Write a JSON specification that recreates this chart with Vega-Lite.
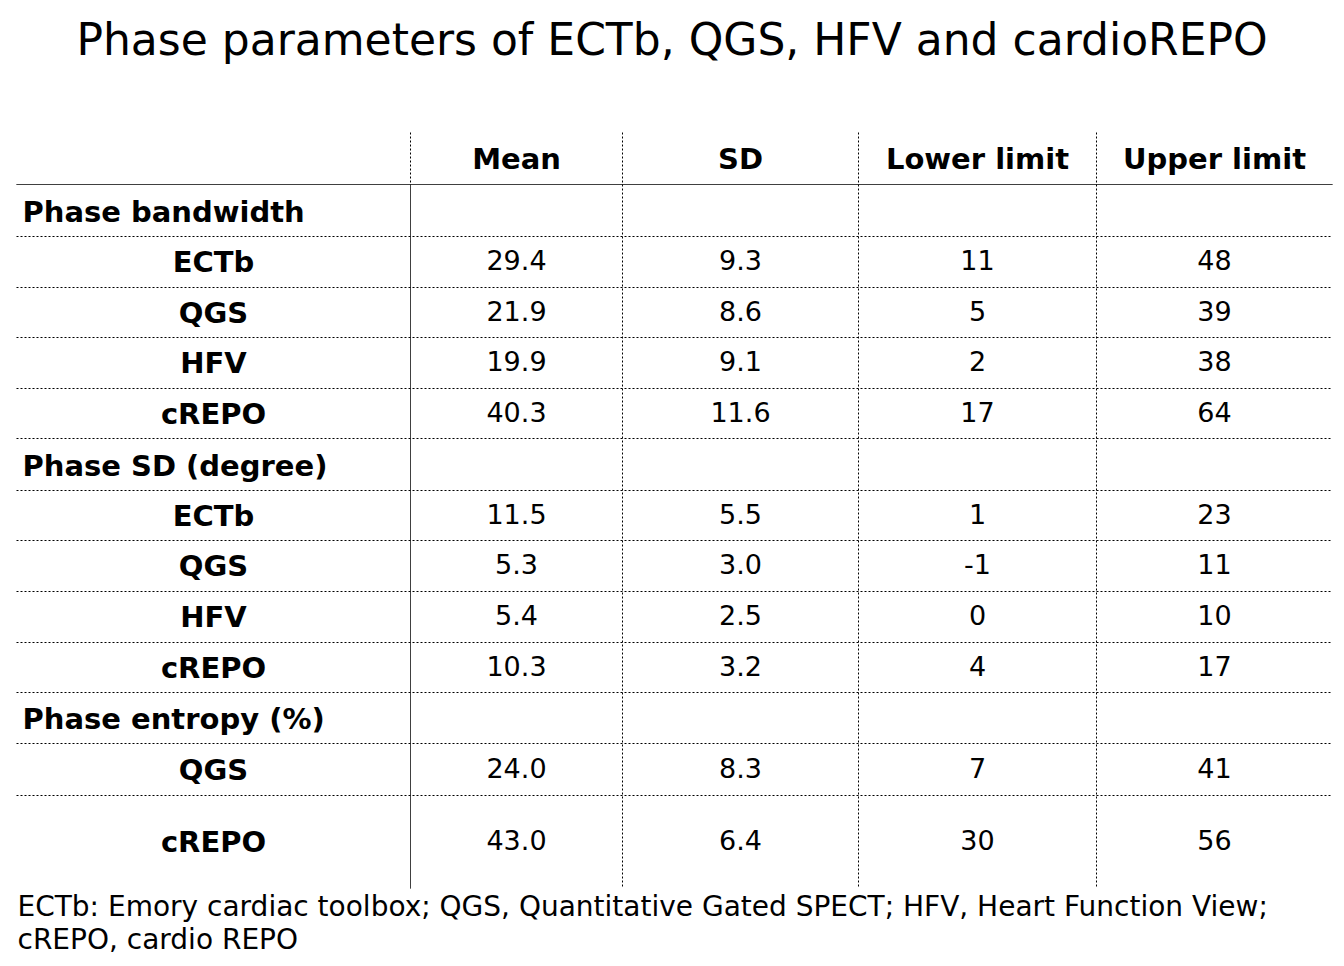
{
  "$schema": "https://vega.github.io/schema/vega-lite/v6.json",
  "width": 1344,
  "height": 966,
  "padding": 0,
  "autosize": {"type": "none"},
  "background": "white",
  "config": {"view": {"stroke": null}},
  "title": {
    "text": "Phase parameters of ECTb, QGS, HFV and cardioREPO",
    "font": "DejaVu Sans",
    "fontSize": 44,
    "fontWeight": "normal",
    "color": "#000000",
    "anchor": "middle",
    "frame": "group",
    "baseline": "alphabetic",
    "offset": -99
  },
  "datasets": {
    "cells": [
      {"row": 0, "col": 1, "kind": "head", "text": "Mean"},
      {"row": 0, "col": 2, "kind": "head", "text": "SD"},
      {"row": 0, "col": 3, "kind": "head", "text": "Lower limit"},
      {"row": 0, "col": 4, "kind": "head", "text": "Upper limit"},
      {"row": 1, "col": 0, "kind": "group", "text": "Phase bandwidth"},
      {"row": 2, "col": 0, "kind": "label", "text": "ECTb"},
      {"row": 2, "col": 1, "kind": "value", "text": "29.4"},
      {"row": 2, "col": 2, "kind": "value", "text": "9.3"},
      {"row": 2, "col": 3, "kind": "value", "text": "11"},
      {"row": 2, "col": 4, "kind": "value", "text": "48"},
      {"row": 3, "col": 0, "kind": "label", "text": "QGS"},
      {"row": 3, "col": 1, "kind": "value", "text": "21.9"},
      {"row": 3, "col": 2, "kind": "value", "text": "8.6"},
      {"row": 3, "col": 3, "kind": "value", "text": "5"},
      {"row": 3, "col": 4, "kind": "value", "text": "39"},
      {"row": 4, "col": 0, "kind": "label", "text": "HFV"},
      {"row": 4, "col": 1, "kind": "value", "text": "19.9"},
      {"row": 4, "col": 2, "kind": "value", "text": "9.1"},
      {"row": 4, "col": 3, "kind": "value", "text": "2"},
      {"row": 4, "col": 4, "kind": "value", "text": "38"},
      {"row": 5, "col": 0, "kind": "label", "text": "cREPO"},
      {"row": 5, "col": 1, "kind": "value", "text": "40.3"},
      {"row": 5, "col": 2, "kind": "value", "text": "11.6"},
      {"row": 5, "col": 3, "kind": "value", "text": "17"},
      {"row": 5, "col": 4, "kind": "value", "text": "64"},
      {"row": 6, "col": 0, "kind": "group", "text": "Phase SD (degree)"},
      {"row": 7, "col": 0, "kind": "label", "text": "ECTb"},
      {"row": 7, "col": 1, "kind": "value", "text": "11.5"},
      {"row": 7, "col": 2, "kind": "value", "text": "5.5"},
      {"row": 7, "col": 3, "kind": "value", "text": "1"},
      {"row": 7, "col": 4, "kind": "value", "text": "23"},
      {"row": 8, "col": 0, "kind": "label", "text": "QGS"},
      {"row": 8, "col": 1, "kind": "value", "text": "5.3"},
      {"row": 8, "col": 2, "kind": "value", "text": "3.0"},
      {"row": 8, "col": 3, "kind": "value", "text": "-1"},
      {"row": 8, "col": 4, "kind": "value", "text": "11"},
      {"row": 9, "col": 0, "kind": "label", "text": "HFV"},
      {"row": 9, "col": 1, "kind": "value", "text": "5.4"},
      {"row": 9, "col": 2, "kind": "value", "text": "2.5"},
      {"row": 9, "col": 3, "kind": "value", "text": "0"},
      {"row": 9, "col": 4, "kind": "value", "text": "10"},
      {"row": 10, "col": 0, "kind": "label", "text": "cREPO"},
      {"row": 10, "col": 1, "kind": "value", "text": "10.3"},
      {"row": 10, "col": 2, "kind": "value", "text": "3.2"},
      {"row": 10, "col": 3, "kind": "value", "text": "4"},
      {"row": 10, "col": 4, "kind": "value", "text": "17"},
      {"row": 11, "col": 0, "kind": "group", "text": "Phase entropy (%)"},
      {"row": 12, "col": 0, "kind": "label", "text": "QGS"},
      {"row": 12, "col": 1, "kind": "value", "text": "24.0"},
      {"row": 12, "col": 2, "kind": "value", "text": "8.3"},
      {"row": 12, "col": 3, "kind": "value", "text": "7"},
      {"row": 12, "col": 4, "kind": "value", "text": "41"},
      {"row": 13, "col": 0, "kind": "label", "text": "cREPO"},
      {"row": 13, "col": 1, "kind": "value", "text": "43.0"},
      {"row": 13, "col": 2, "kind": "value", "text": "6.4"},
      {"row": 13, "col": 3, "kind": "value", "text": "30"},
      {"row": 13, "col": 4, "kind": "value", "text": "56"}
    ],
    "hlines": [
      {"edge": 0.5, "style": "solid"},
      {"edge": 1.5, "style": "dotted"},
      {"edge": 2.5, "style": "dotted"},
      {"edge": 3.5, "style": "dotted"},
      {"edge": 4.5, "style": "dotted"},
      {"edge": 5.5, "style": "dotted"},
      {"edge": 6.5, "style": "dotted"},
      {"edge": 7.5, "style": "dotted"},
      {"edge": 8.5, "style": "dotted"},
      {"edge": 9.5, "style": "dotted"},
      {"edge": 10.5, "style": "dotted"},
      {"edge": 11.5, "style": "dotted"},
      {"edge": 12.5, "style": "dotted"}
    ],
    "vlines": [
      {"edge": 0.5, "from": -0.5, "to": 0.5, "style": "dotted"},
      {"edge": 0.5, "from": 0.5, "to": 13.5, "style": "solid"},
      {"edge": 1.5, "from": -0.5, "to": 13.5, "style": "dotted"},
      {"edge": 2.5, "from": -0.5, "to": 13.5, "style": "dotted"},
      {"edge": 3.5, "from": -0.5, "to": 13.5, "style": "dotted"}
    ],
    "notes": [
      {"row": 15, "text": "ECTb: Emory cardiac toolbox; QGS, Quantitative Gated SPECT; HFV, Heart Function View;\ncREPO, cardio REPO"}
    ]
  },
  "layer": [
    {
      "data": {"name": "hlines"},
      "mark": {"type": "rule", "color": "#000000", "strokeWidth": 1},
      "encoding": {
        "x": {"datum": -0.5, "type": "quantitative", "axis": null,
              "scale": {"type": "linear", "domain": [-0.5, 0.5, 1.5, 2.5, 3.5, 4.5], "range": [16.5, 410.5, 622.5, 858.5, 1096.5, 1332.5], "zero": false, "nice": false}},
        "x2": {"datum": 4.5},
        "y": {"field": "edge", "type": "quantitative", "axis": null,
              "scale": {"type": "linear", "domain": [-0.5, 0.5, 1.5, 2.5, 3.5, 4.5, 5.5, 6.5, 7.5, 8.5, 9.5, 10.5, 11.5, 12.5, 13.5, 15], "range": [132.5, 184.5, 236.5, 287.5, 337.5, 388.5, 438.5, 490.5, 540.5, 591.5, 642.5, 692.5, 743.5, 795.5, 888.5, 915.5], "zero": false, "nice": false}},
        "strokeDash": {"field": "style", "type": "nominal", "legend": null,
                       "scale": {"domain": ["solid", "dotted"], "range": [[1, 0], [2, 2]]}}
      }
    },
    {
      "data": {"name": "vlines"},
      "mark": {"type": "rule", "color": "#000000", "strokeWidth": 1},
      "encoding": {
        "x": {"field": "edge", "type": "quantitative", "axis": null,
              "scale": {"type": "linear", "domain": [-0.5, 0.5, 1.5, 2.5, 3.5, 4.5], "range": [16.5, 410.5, 622.5, 858.5, 1096.5, 1332.5], "zero": false, "nice": false}},
        "y": {"field": "from", "type": "quantitative", "axis": null,
              "scale": {"type": "linear", "domain": [-0.5, 0.5, 1.5, 2.5, 3.5, 4.5, 5.5, 6.5, 7.5, 8.5, 9.5, 10.5, 11.5, 12.5, 13.5, 15], "range": [132.5, 184.5, 236.5, 287.5, 337.5, 388.5, 438.5, 490.5, 540.5, 591.5, 642.5, 692.5, 743.5, 795.5, 888.5, 915.5], "zero": false, "nice": false}},
        "y2": {"field": "to"},
        "strokeDash": {"field": "style", "type": "nominal", "legend": null,
                       "scale": {"domain": ["solid", "dotted"], "range": [[1, 0], [2, 2]]}}
      }
    },
    {
      "data": {"name": "cells"},
      "transform": [{"filter": "datum.kind === 'value'"}],
      "mark": {"type": "text", "font": "DejaVu Sans", "fontSize": 27, "fontWeight": "normal", "color": "#000000", "align": "center", "baseline": "middle", "dy": 0},
      "encoding": {
        "x": {"field": "col", "type": "quantitative", "axis": null,
              "scale": {"type": "linear", "domain": [-0.5, 0.5, 1.5, 2.5, 3.5, 4.5], "range": [16.5, 410.5, 622.5, 858.5, 1096.5, 1332.5], "zero": false, "nice": false}},
        "y": {"field": "row", "type": "quantitative", "axis": null,
              "scale": {"type": "linear", "domain": [-0.5, 0.5, 1.5, 2.5, 3.5, 4.5, 5.5, 6.5, 7.5, 8.5, 9.5, 10.5, 11.5, 12.5, 13.5, 15], "range": [132.5, 184.5, 236.5, 287.5, 337.5, 388.5, 438.5, 490.5, 540.5, 591.5, 642.5, 692.5, 743.5, 795.5, 888.5, 915.5], "zero": false, "nice": false}},
        "text": {"field": "text", "type": "nominal"}
      }
    },
    {
      "data": {"name": "cells"},
      "transform": [{"filter": "datum.kind === 'head' || datum.kind === 'label'"}],
      "mark": {"type": "text", "font": "DejaVu Sans", "fontSize": 29, "fontWeight": "bold", "color": "#000000", "align": "center", "baseline": "middle", "dy": 1},
      "encoding": {
        "x": {"field": "col", "type": "quantitative", "axis": null,
              "scale": {"type": "linear", "domain": [-0.5, 0.5, 1.5, 2.5, 3.5, 4.5], "range": [16.5, 410.5, 622.5, 858.5, 1096.5, 1332.5], "zero": false, "nice": false}},
        "y": {"field": "row", "type": "quantitative", "axis": null,
              "scale": {"type": "linear", "domain": [-0.5, 0.5, 1.5, 2.5, 3.5, 4.5, 5.5, 6.5, 7.5, 8.5, 9.5, 10.5, 11.5, 12.5, 13.5, 15], "range": [132.5, 184.5, 236.5, 287.5, 337.5, 388.5, 438.5, 490.5, 540.5, 591.5, 642.5, 692.5, 743.5, 795.5, 888.5, 915.5], "zero": false, "nice": false}},
        "text": {"field": "text", "type": "nominal"}
      }
    },
    {
      "data": {"name": "cells"},
      "transform": [{"filter": "datum.kind === 'group'"}],
      "mark": {"type": "text", "font": "DejaVu Sans", "fontSize": 29, "fontWeight": "bold", "color": "#000000", "align": "left", "baseline": "middle", "dx": 6, "dy": 2},
      "encoding": {
        "x": {"datum": -0.5, "type": "quantitative", "axis": null,
              "scale": {"type": "linear", "domain": [-0.5, 0.5, 1.5, 2.5, 3.5, 4.5], "range": [16.5, 410.5, 622.5, 858.5, 1096.5, 1332.5], "zero": false, "nice": false}},
        "y": {"field": "row", "type": "quantitative", "axis": null,
              "scale": {"type": "linear", "domain": [-0.5, 0.5, 1.5, 2.5, 3.5, 4.5, 5.5, 6.5, 7.5, 8.5, 9.5, 10.5, 11.5, 12.5, 13.5, 15], "range": [132.5, 184.5, 236.5, 287.5, 337.5, 388.5, 438.5, 490.5, 540.5, 591.5, 642.5, 692.5, 743.5, 795.5, 888.5, 915.5], "zero": false, "nice": false}},
        "text": {"field": "text", "type": "nominal"}
      }
    },
    {
      "data": {"name": "notes"},
      "mark": {"type": "text", "font": "DejaVu Sans", "fontSize": 28, "fontWeight": "normal", "color": "#000000", "align": "left", "baseline": "alphabetic", "lineBreak": "\n", "lineHeight": 33, "dx": 1},
      "encoding": {
        "x": {"datum": -0.5, "type": "quantitative", "axis": null,
              "scale": {"type": "linear", "domain": [-0.5, 0.5, 1.5, 2.5, 3.5, 4.5], "range": [16.5, 410.5, 622.5, 858.5, 1096.5, 1332.5], "zero": false, "nice": false}},
        "y": {"field": "row", "type": "quantitative", "axis": null,
              "scale": {"type": "linear", "domain": [-0.5, 0.5, 1.5, 2.5, 3.5, 4.5, 5.5, 6.5, 7.5, 8.5, 9.5, 10.5, 11.5, 12.5, 13.5, 15], "range": [132.5, 184.5, 236.5, 287.5, 337.5, 388.5, 438.5, 490.5, 540.5, 591.5, 642.5, 692.5, 743.5, 795.5, 888.5, 915.5], "zero": false, "nice": false}},
        "text": {"field": "text", "type": "nominal"}
      }
    }
  ]
}
